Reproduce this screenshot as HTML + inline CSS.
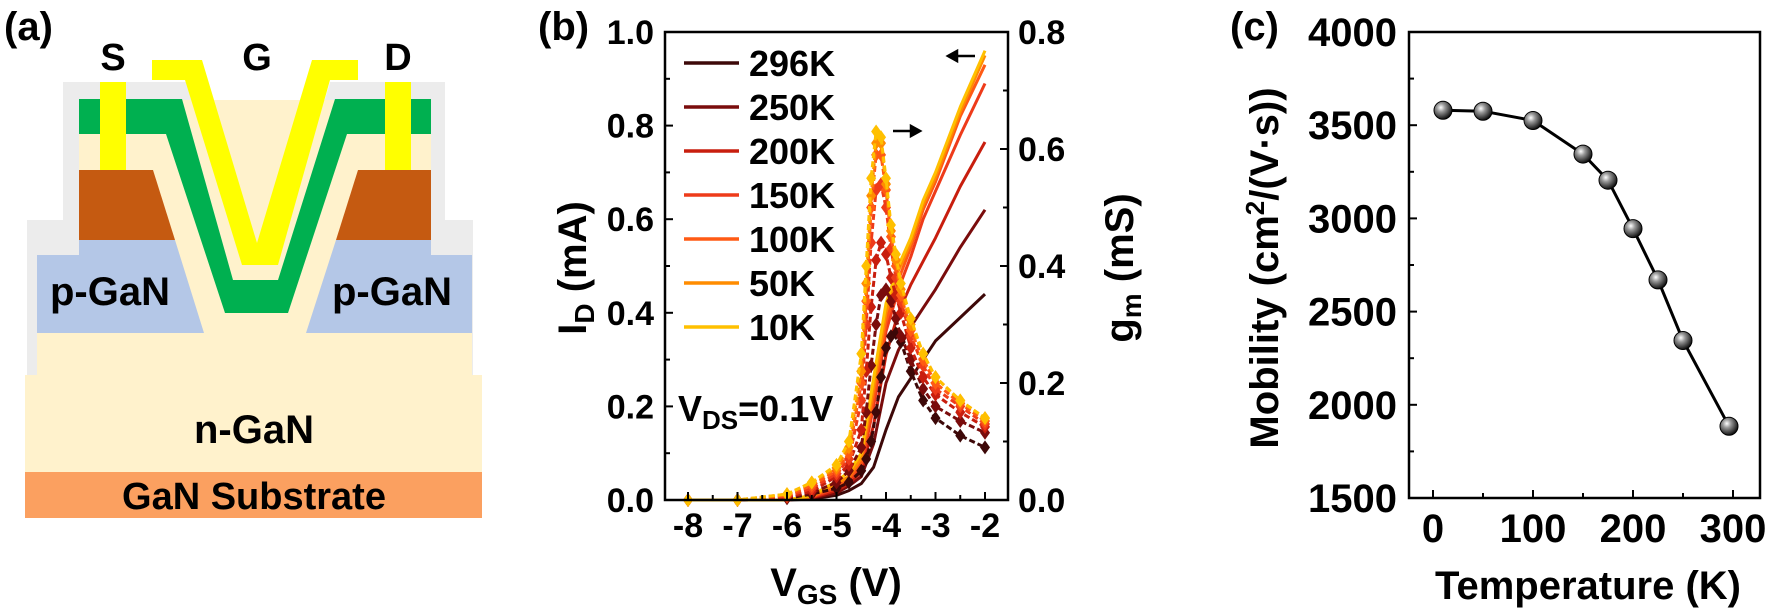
<!DOCTYPE html>
<html><head><meta charset="utf-8"><style>
html,body{margin:0;padding:0;background:#fff;}
svg{display:block;font-family:"Liberation Sans",Arial,sans-serif;font-weight:bold;}
</style></head><body>
<svg id="fig" width="1772" height="614" viewBox="0 0 1772 614" xmlns="http://www.w3.org/2000/svg">
<g>
  <text x="4" y="40" font-size="40">(a)</text>
  <polygon fill="#ececec" points="63,82 190,82 242,270 274,270 330,82 445,82 445,220 473,220 473,375 27,375 27,220 63,220"/>
  <rect x="79" y="100" width="352" height="240" fill="#fff2cc"/>
  <rect x="37" y="333" width="435" height="45" fill="#fff2cc"/>
  <rect x="25" y="375" width="457" height="97" fill="#fff2cc"/>
  <rect x="25" y="472" width="457" height="46" fill="#fba060"/>
  <polygon fill="#b4c7e7" points="37,255 79,255 79,240 175,240 204,333 37,333"/>
  <polygon fill="#b4c7e7" points="306,333 336,240 431,240 431,255 472,255 472,333"/>
  <polygon fill="#c55a11" points="79,170 153,170 175,240 79,240"/>
  <polygon fill="#c55a11" points="358,170 431,170 431,240 336,240"/>
  <polygon fill="#00b050" points="79,99 182,99 233,280 278,280 335,99 431,99 431,134 347,134 288,313 225,313 166,134 79,134"/>
  <polygon fill="#ffff00" points="152,60 202,60 257,243 312,60 358,60 358,80 330,80 278,265 242,265 185,80 152,80"/>
  <rect x="100" y="82" width="26" height="88" fill="#ffff00"/>
  <rect x="385" y="82" width="26" height="88" fill="#ffff00"/>
  <text x="113" y="70" font-size="38" text-anchor="middle">S</text>
  <text x="257" y="70" font-size="38" text-anchor="middle">G</text>
  <text x="398" y="70" font-size="38" text-anchor="middle">D</text>
  <text x="110" y="305" font-size="40" text-anchor="middle">p-GaN</text>
  <text x="392" y="305" font-size="40" text-anchor="middle">p-GaN</text>
  <text x="254" y="443" font-size="40" text-anchor="middle">n-GaN</text>
  <text x="254" y="509" font-size="38" text-anchor="middle">GaN Substrate</text>
</g>
<g id="pb"></g>
<g id="pc"></g>
</svg>
<script>
const temps = ["296K","250K","200K","150K","100K","50K","10K"];
const seriesColors = ["#3d0808","#7a0c0c","#c81e0e","#ee3b1a","#ff5a14","#ff8c00","#ffc000"];
const idVgs = [-8,-7,-6,-5.5,-5,-4.75,-4.5,-4.25,-4,-3.75,-3.5,-3.25,-3,-2.5,-2];
const id296 = [0,0,0,0.002,0.01,0.02,0.035,0.07,0.15,0.22,0.26,0.30,0.34,0.39,0.44];
const id250 = [0,0,0,0.004,0.015,0.03,0.05,0.12,0.25,0.32,0.37,0.41,0.45,0.54,0.62];
const id200 = [0,0,0,0.005,0.02,0.035,0.06,0.16,0.31,0.40,0.46,0.51,0.56,0.67,0.765];
const id150 = [0,0,0,0.006,0.025,0.04,0.07,0.20,0.36,0.45,0.52,0.60,0.66,0.78,0.89];
const id100 = [0,0,0,0.007,0.03,0.045,0.08,0.22,0.38,0.47,0.54,0.62,0.68,0.82,0.93];
const id50  = [0,0,0,0.008,0.035,0.05,0.09,0.24,0.40,0.49,0.55,0.63,0.69,0.83,0.95];
const id10  = [0,0,0,0.01,0.04,0.06,0.10,0.26,0.42,0.50,0.56,0.64,0.70,0.84,0.96];
const gmVgs = [-8,-7,-6,-5.5,-5,-4.75,-4.5,-4.4,-4.3,-4.2,-4.1,-4,-3.9,-3.8,-3.7,-3.5,-3.25,-3,-2.5,-2];
const gm296 = [0,0,0.003,0.01,0.02,0.03,0.05,0.07,0.10,0.15,0.21,0.26,0.28,0.285,0.27,0.22,0.17,0.14,0.11,0.09];
const gm250 = [0,0,0.004,0.012,0.03,0.05,0.09,0.15,0.23,0.30,0.35,0.36,0.34,0.31,0.28,0.24,0.19,0.16,0.135,0.115];
const gm200 = [0,0,0.005,0.015,0.04,0.06,0.12,0.22,0.33,0.41,0.44,0.42,0.38,0.35,0.32,0.26,0.21,0.18,0.15,0.125];
const gm150 = [0,0,0.006,0.02,0.045,0.07,0.17,0.30,0.44,0.53,0.54,0.50,0.43,0.38,0.34,0.28,0.23,0.19,0.16,0.13];
const gm100 = [0,0,0.008,0.025,0.05,0.08,0.20,0.34,0.50,0.59,0.59,0.53,0.45,0.40,0.35,0.29,0.24,0.20,0.165,0.135];
const gm50  = [0,0,0.01,0.03,0.055,0.09,0.22,0.37,0.52,0.61,0.61,0.54,0.46,0.41,0.36,0.30,0.25,0.21,0.17,0.14];
const gm10  = [0,0,0.01,0.03,0.06,0.10,0.25,0.40,0.55,0.63,0.62,0.55,0.47,0.42,0.37,0.31,0.25,0.21,0.17,0.14];
const bXTicks = [-8,-7,-6,-5,-4,-3,-2];
const bYTicks = ["0.0","0.2","0.4","0.6","0.8","1.0"];
const bY2Ticks = ["0.0","0.2","0.4","0.6","0.8"];
const cTemps = [10,50,100,150,175,200,225,250,296];
const cMobility = [3580,3575,3525,3345,3205,2945,2670,2345,1885];
const cXTicks = [0,100,200,300];
const cYTicks = [1500,2000,2500,3000,3500,4000];

const NS="http://www.w3.org/2000/svg";
function mk(parent,tag,attrs,text){const e=document.createElementNS(NS,tag);for(const k in attrs)e.setAttribute(k,attrs[k]);if(text!==undefined)e.textContent=text;parent.appendChild(e);return e;}

(function(){
const g=document.getElementById('pb');
const L=665,R=1008,T=32,B=500;
const xs=v=>688+(v+8)*49.5;
const yl=v=>B-(v/1.0)*(B-T);
const yr=v=>B-(v/0.8)*(B-T);
const idSets=[id296,id250,id200,id150,id100,id50,id10];
const gmSets=[gm296,gm250,gm200,gm150,gm100,gm50,gm10];
for(let s=0;s<temps.length;s++){
  let d=idVgs.map((v,i)=>(i?'L':'M')+xs(v).toFixed(1)+','+yl(idSets[s][i]).toFixed(1)).join(' ');
  const p=mk(g,'path',{d:d,fill:'none',stroke:seriesColors[s],'stroke-width':3,'stroke-linejoin':'round'});
  
  
}
for(let s=0;s<temps.length;s++){
  let d=gmVgs.map((v,i)=>(i?'L':'M')+xs(v).toFixed(1)+','+yr(gmSets[s][i]).toFixed(1)).join(' ');
  const p=mk(g,'path',{d:d,fill:'none',stroke:seriesColors[s],'stroke-width':3,'stroke-dasharray':'6,3'});
  
  
  gmVgs.forEach((v,i)=>{
    const cx=xs(v),cy=yr(gmSets[s][i]);
    const m=mk(g,'polygon',{points:`${cx},${cy-7} ${cx+5},${cy} ${cx},${cy+7} ${cx-5},${cy}`,fill:seriesColors[s]});
    
    
  });
}
const fr=mk(g,'rect',{x:L,y:T,width:R-L,height:B-T,fill:'none',stroke:'#000','stroke-width':2.5});


bXTicks.forEach((v,i)=>{
  mk(g,'line',{x1:xs(v),y1:B,x2:xs(v),y2:B-8,stroke:'#000','stroke-width':2});
  if(i<bXTicks.length-1) mk(g,'line',{x1:xs(v)+24.75,y1:B,x2:xs(v)+24.75,y2:B-5,stroke:'#000','stroke-width':2});
  const t=mk(g,'text',{x:xs(v),y:537,'font-size':34,'text-anchor':'middle'},String(v));
  
  
});
bYTicks.forEach((lbl,i)=>{
  const v=parseFloat(lbl),y=yl(v);
  mk(g,'line',{x1:L,y1:y,x2:L+8,y2:y,stroke:'#000','stroke-width':2});
  if(i>0) mk(g,'line',{x1:L,y1:y+46.8,x2:L+5,y2:y+46.8,stroke:'#000','stroke-width':2});
  const t=mk(g,'text',{x:654,y:y+12,'font-size':34,'text-anchor':'end'},lbl);
  
  
});
bY2Ticks.forEach((lbl,i)=>{
  const v=parseFloat(lbl),y=yr(v);
  mk(g,'line',{x1:R,y1:y,x2:R-8,y2:y,stroke:'#000','stroke-width':2});
  if(i>0) mk(g,'line',{x1:R,y1:y+58.5,x2:R-5,y2:y+58.5,stroke:'#000','stroke-width':2});
  const t=mk(g,'text',{x:1018,y:y+12,'font-size':34},lbl);
  
  
});
temps.forEach((tp,i)=>{
  const y=63+i*44;
  const ln=mk(g,'line',{x1:684,y1:y,x2:739,y2:y,stroke:seriesColors[i],'stroke-width':3.5});
  
  
  const t=mk(g,'text',{x:749,y:y+13,'font-size':36},tp);
  
  
});
})();
</script>
<script>
(function(){
const g=document.getElementById('pb');
let t=mk(g,'text',{x:538,y:40,'font-size':40},'(b)');


t=mk(g,'text',{x:0,y:0,'font-size':40,transform:'translate(586,268) rotate(-90)','text-anchor':'middle'});


t.innerHTML='I<tspan font-size="28" dy="8">D</tspan><tspan dy="-8"> (mA)</tspan>';
t=mk(g,'text',{x:0,y:0,'font-size':40,transform:'translate(1133,268) rotate(-90)','text-anchor':'middle'});


t.innerHTML='g<tspan font-size="28" dy="8">m</tspan><tspan dy="-8"> (mS)</tspan>';
t=mk(g,'text',{x:836,y:596,'font-size':40,'text-anchor':'middle'});


t.innerHTML='V<tspan font-size="28" dy="8">GS</tspan><tspan dy="-8"> (V)</tspan>';
t=mk(g,'text',{x:678,y:421,'font-size':36});


t.innerHTML='V<tspan font-size="26" dy="8">DS</tspan><tspan dy="-8">=0.1V</tspan>';
let a=mk(g,'path',{d:'M975,56 L948,56 M948,56 L957,51 L957,61 Z',stroke:'#000','stroke-width':2.5,fill:'#000'});


a=mk(g,'path',{d:'M893,131 L920,131 M920,131 L911,126 L911,136 Z',stroke:'#000','stroke-width':2.5,fill:'#000'});



const c=document.getElementById('pc');
const L=1409,R=1760,T=32,B=498;
const xs=v=>1433+v*1.0;
const ys=v=>B-(v-1500)/2500*(B-T);
const defs=mk(c,'defs',{});
const rg=mk(defs,'radialGradient',{id:'ball',cx:'0.38',cy:'0.35',r:'0.65'});
mk(rg,'stop',{offset:'0','stop-color':'#ffffff'});
mk(rg,'stop',{offset:'0.35','stop-color':'#9a9a9a'});
mk(rg,'stop',{offset:'1','stop-color':'#111'});
const fr=mk(c,'rect',{x:L,y:T,width:R-L,height:B-T,fill:'none',stroke:'#000','stroke-width':2.5});


cXTicks.forEach(v=>{
  mk(c,'line',{x1:xs(v),y1:B,x2:xs(v),y2:B-8,stroke:'#000','stroke-width':2});
  mk(c,'line',{x1:xs(v)+50,y1:B,x2:xs(v)+50,y2:B-5,stroke:'#000','stroke-width':2});
  const tt=mk(c,'text',{x:xs(v),y:542,'font-size':40,'text-anchor':'middle'},String(v));
  
  
});
cYTicks.forEach(v=>{
  const y=ys(v);
  mk(c,'line',{x1:L,y1:y,x2:L+8,y2:y,stroke:'#000','stroke-width':2});
  if(v<4000) mk(c,'line',{x1:L,y1:y-46.6,x2:L+5,y2:y-46.6,stroke:'#000','stroke-width':2});
  const tt=mk(c,'text',{x:1397,y:y+14,'font-size':40,'text-anchor':'end'},String(v));
  
  
});
const d=cTemps.map((v,i)=>(i?'L':'M')+xs(v).toFixed(1)+','+ys(cMobility[i]).toFixed(1)).join(' ');
const ln=mk(c,'path',{d:d,fill:'none',stroke:'#000','stroke-width':3});


cTemps.forEach((v,i)=>{
  const pt=mk(c,'circle',{cx:xs(v),cy:ys(cMobility[i]),r:9,fill:'url(#ball)',stroke:'#000','stroke-width':1});
  
  
});
t=mk(c,'text',{x:1230,y:40,'font-size':40},'(c)');


t=mk(c,'text',{x:0,y:0,'font-size':40,transform:'translate(1278,268) rotate(-90)','text-anchor':'middle'});


t.innerHTML='Mobility (cm<tspan font-size="26" dy="-14">2</tspan><tspan dy="14">/(V·s))</tspan>';
t=mk(c,'text',{x:1588,y:599,'font-size':40,'text-anchor':'middle'},'Temperature (K)');


})();
</script>
</body></html>
